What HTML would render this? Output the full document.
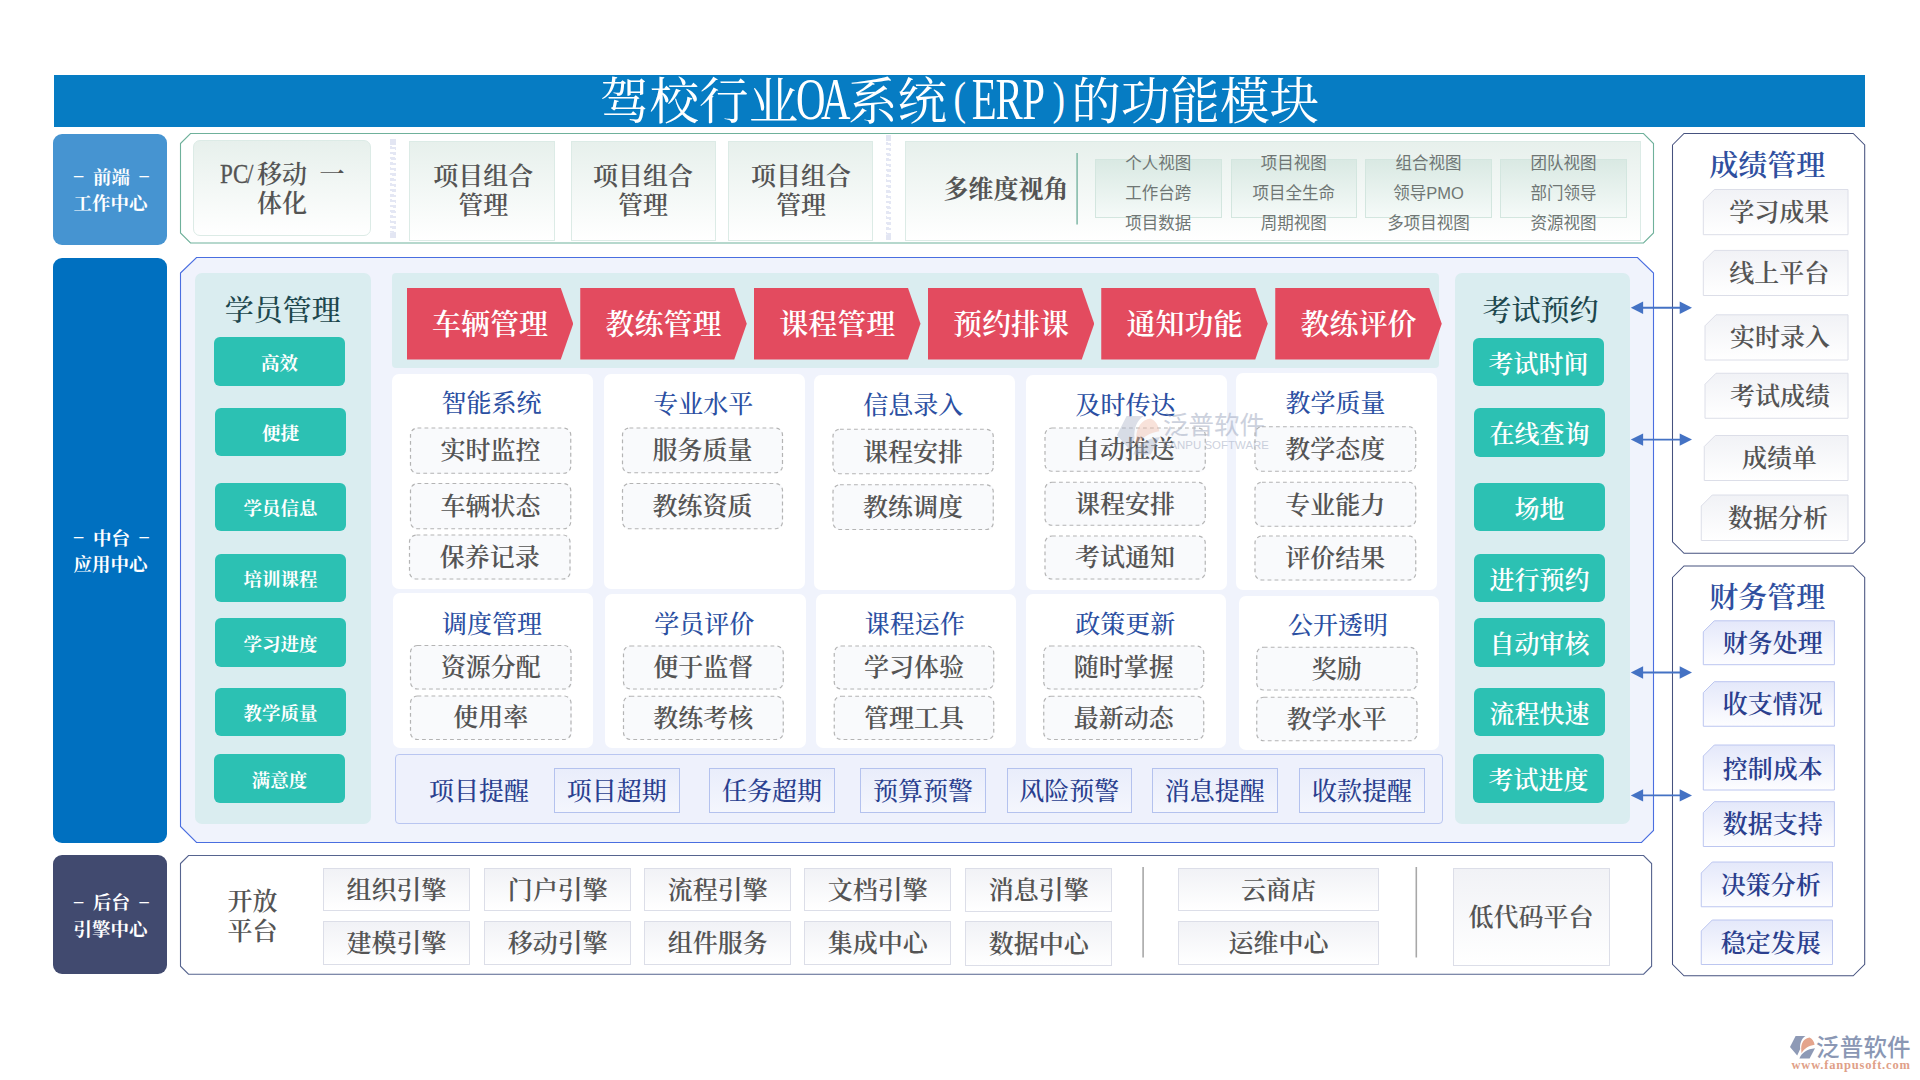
<!DOCTYPE html>
<html lang="zh-CN"><head><meta charset="utf-8"><title>驾校行业OA系统(ERP)的功能模块</title>
<style>
*{margin:0;padding:0;box-sizing:border-box;}
html,body{width:1920px;height:1080px;background:#fff;overflow:hidden;}
body{position:relative;font-family:"Liberation Serif","Noto Serif CJK SC",serif;}
.a{position:absolute;white-space:nowrap;text-align:center;}
svg.l{position:absolute;left:0;top:0;width:1920px;height:1080px;}
.title{background:#067cc3;}
.titletx{color:#fff;font-size:49.6px;font-weight:400;line-height:50px;letter-spacing:0;}
.titletx i{font-style:normal;display:inline-block;font-size:60px;line-height:50px;font-weight:400;transform:scaleX(.68);}
.titletx i.p{font-size:47px;transform:scaleX(.8) translateY(-5.5px);}
.lab{border-radius:9px;}
.labtx{color:#fff;font-weight:700;font-size:18.5px;}
.labtx em{font-style:normal;display:inline-block;width:9.5px;margin:0 9.6px;position:relative;top:-2.3px;}
.s{position:relative;display:inline-block;line-height:inherit;}
.gbox{background:linear-gradient(#e7f0ec,#ffffff);border:1px solid #dcebe6;}
.t24{font-size:25px;color:#545454;font-weight:600;}
.hw{font-weight:400;display:inline-block;width:12.5px;text-align:center;font-size:27.5px;line-height:20px;transform:scaleX(.84);-webkit-text-stroke:.3px #545454;}
.hatch{background:repeating-linear-gradient(to bottom,#fff 0 1.6px,#e4e7f4 1.6px 4.2px,#fff 4.2px 5.3px);transform:skewY(9deg);}
.vbox{background:linear-gradient(#d9e9e3,#f5faf8);border:1px solid #d3e6df;}
.vt{font-family:"Liberation Sans","Noto Sans CJK SC",sans-serif;font-size:16.5px;color:#6f7674;font-weight:400;}
.tealpanel{background:#daedf0;border-radius:7px;}
.ptitle{font-size:29px;color:#1d474d;font-weight:500;}
.tbtn{background:#2cc1b3;border-radius:6px;color:#fff;}
.tb18{font-size:18.5px;font-weight:700;}
.tb24{font-size:25px;font-weight:600;}
.flowtx{font-size:29px;color:#fff;font-weight:600;padding-right:0px;background:#e34b5f;clip-path:polygon(0 0,92.5% 0,100% 50%,92.5% 100%,0 100%);}
.card{background:#fff;border-radius:7px;}
.ctitle{font-size:25px;color:#2b4fa2;font-weight:500;}
.dash{font-size:25px;color:#545454;font-weight:600;background:#f9fafc;border-radius:7px;}
.remp{background:#eef1fc;border:1px solid #b9c6f1;border-radius:4px;}
.remt{font-size:25px;color:#2a3f8f;font-weight:500;}
.remb{font-size:25px;color:#2a3f8f;font-weight:500;background:linear-gradient(#e9edfb,#f4f6fd);border:1px solid #b4c2ee;}
.ebox{font-size:25px;color:#545454;font-weight:600;background:linear-gradient(#f1f2f6,#ffffff);border:1px solid #dcdee8;}
.rtitle{font-size:29px;color:#2f4f9f;font-weight:600;}
.ft24{font-size:25px;color:#2b3f8e;font-weight:600;}
.lg1{font-family:"Liberation Sans","Noto Sans CJK SC",sans-serif;font-size:23.5px;color:#8a97b4;font-weight:500;line-height:31px;text-align:left;letter-spacing:.2px;}
.lg2{font-size:12.5px;color:#e0a088;font-weight:700;line-height:19px;text-align:left;letter-spacing:.8px;padding-left:3.5px;}
.wm1{font-family:"Liberation Sans","Noto Sans CJK SC",sans-serif;font-size:25.5px;color:#9aa5bd;opacity:.5;line-height:34px;text-align:left;font-weight:400;}
.wm2{font-family:"Liberation Sans","Noto Sans CJK SC",sans-serif;font-size:11.4px;color:#9aa5bd;opacity:.5;line-height:14.5px;text-align:left;letter-spacing:.05px;}
</style></head>
<body>
<svg class="l" viewBox="0 0 1920 1080">
<polygon points="180.50,143.50 190.50,133.50 1643.50,133.50 1653.50,143.50 1653.50,233.00 1643.50,243.00 190.50,243.00 180.50,233.00" fill="#fff" stroke="#6fb19b" stroke-width="1.1" />
<polygon points="180.50,273.00 196.50,257.50 1637.50,257.50 1653.50,273.00 1653.50,830.50 1641.50,842.50 196.50,842.50 180.50,826.50" fill="#f0f3fc" stroke="#4a6ee0" stroke-width="1.1" />
<polygon points="180.50,863.50 188.50,855.50 1643.60,855.50 1651.60,863.50 1651.60,966.25 1643.60,974.25 188.50,974.25 180.50,966.25" fill="#fff" stroke="#56648f" stroke-width="1.1" />
<polygon points="1672.50,145.00 1684.00,133.50 1853.20,133.50 1864.70,145.00 1864.70,541.75 1853.20,553.25 1684.00,553.25 1672.50,541.75" fill="#fff" stroke="#46527f" stroke-width="1.05" />
<polygon points="1672.50,577.50 1684.00,566.00 1853.20,566.00 1864.70,577.50 1864.70,964.25 1853.20,975.75 1684.00,975.75 1672.50,964.25" fill="#fff" stroke="#46527f" stroke-width="1.05" />
<defs>
<linearGradient id="gg" x1="0" y1="0" x2="0" y2="1"><stop offset="0" stop-color="#f1f2f6"/><stop offset="1" stop-color="#ffffff"/></linearGradient>
<linearGradient id="gb" x1="0" y1="0" x2="0" y2="1"><stop offset="0" stop-color="#e4e8fa"/><stop offset="1" stop-color="#fdfdff"/></linearGradient>
</defs>
<polygon points="1703.30,200.50 1714.30,189.50 1848.00,189.50 1848.00,234.70 1703.30,234.70" fill="url(#gg)" stroke="#dcdee8" stroke-width="1" />
<polygon points="1703.30,261.40 1714.30,250.40 1848.00,250.40 1848.00,295.50 1703.30,295.50" fill="url(#gg)" stroke="#dcdee8" stroke-width="1" />
<polygon points="1705.00,325.80 1716.00,314.80 1848.00,314.80 1848.00,360.00 1705.00,360.00" fill="url(#gg)" stroke="#dcdee8" stroke-width="1" />
<polygon points="1705.00,384.25 1716.00,373.25 1848.00,373.25 1848.00,418.25 1705.00,418.25" fill="url(#gg)" stroke="#dcdee8" stroke-width="1" />
<polygon points="1704.25,446.50 1715.25,435.50 1848.00,435.50 1848.00,480.50 1704.25,480.50" fill="url(#gg)" stroke="#dcdee8" stroke-width="1" />
<polygon points="1701.25,506.00 1712.25,495.00 1848.00,495.00 1848.00,540.50 1701.25,540.50" fill="url(#gg)" stroke="#dcdee8" stroke-width="1" />
<polygon points="1703.30,631.80 1714.30,620.80 1834.40,620.80 1834.40,664.70 1703.30,664.70" fill="url(#gb)" stroke="#bcc6f0" stroke-width="1" />
<polygon points="1703.30,692.70 1714.30,681.70 1834.40,681.70 1834.40,726.25 1703.30,726.25" fill="url(#gb)" stroke="#bcc6f0" stroke-width="1" />
<polygon points="1703.30,756.00 1714.30,745.00 1834.40,745.00 1834.40,790.00 1703.30,790.00" fill="url(#gb)" stroke="#bcc6f0" stroke-width="1" />
<polygon points="1703.30,812.70 1714.30,801.70 1834.40,801.70 1834.40,846.50 1703.30,846.50" fill="url(#gb)" stroke="#bcc6f0" stroke-width="1" />
<polygon points="1701.25,873.00 1712.25,862.00 1832.50,862.00 1832.50,906.75 1701.25,906.75" fill="url(#gb)" stroke="#bcc6f0" stroke-width="1" />
<polygon points="1701.25,931.00 1712.25,920.00 1832.50,920.00 1832.50,964.50 1701.25,964.50" fill="url(#gb)" stroke="#bcc6f0" stroke-width="1" />
</svg>
<div class="a title" style="left:54.00px;top:75.00px;width:1811.00px;height:52.00px;"></div>
<div class="a titletx" style="left:54.00px;top:74.10px;width:1811.00px;height:52.00px;">驾校行业<i style="margin:0 -9.26px">O</i><i style="margin:0 -9.26px">A</i>系统<i class="p" style="margin:0 4.57px">(</i><i style="margin:0 -5.93px">E</i><i style="margin:0 -7.61px">R</i><i style="margin:0 -4.28px">P</i><i class="p" style="margin:0 4.57px">)</i>的功能模块</div>
<div class="a lab" style="left:53.00px;top:134.00px;width:114.00px;height:110.50px;background:#4694d1;"></div>
<div class="a lab" style="left:53.00px;top:258.00px;width:114.00px;height:584.50px;background:#0070c0;"></div>
<div class="a lab" style="left:53.00px;top:855.00px;width:114.00px;height:118.75px;background:#414a6f;"></div>
<div class="a labtx" style="left:54.40px;top:163.00px;width:114.00px;height:28.00px;line-height:28.00px;"><span class="s" style="top:0.50px"><em>–</em>前端<em>–</em></span></div>
<div class="a labtx" style="left:53.40px;top:189.75px;width:114.00px;height:28.00px;line-height:28.00px;"><span class="s" style="top:0.50px">工作中心</span></div>
<div class="a labtx" style="left:54.40px;top:524.00px;width:114.00px;height:28.00px;line-height:28.00px;"><span class="s" style="top:0.50px"><em>–</em>中台<em>–</em></span></div>
<div class="a labtx" style="left:53.40px;top:550.50px;width:114.00px;height:28.00px;line-height:28.00px;"><span class="s" style="top:0.50px">应用中心</span></div>
<div class="a labtx" style="left:54.40px;top:888.50px;width:114.00px;height:28.00px;line-height:28.00px;"><span class="s" style="top:0.50px"><em>–</em>后台<em>–</em></span></div>
<div class="a labtx" style="left:53.40px;top:915.25px;width:114.00px;height:28.00px;line-height:28.00px;"><span class="s" style="top:0.50px">引擎中心</span></div>
<div class="a gbox" style="left:193.00px;top:139.50px;width:178.00px;height:96.50px;border-radius:7px;"></div>
<div class="a t24" style="left:193.00px;top:159.00px;width:178.00px;height:29.50px;line-height:29.50px;"><span class="s" style="top:0.90px"><b class="hw">P</b><b class="hw">C</b><b class="hw">/</b>移动<b class="hw">&nbsp;</b>一</span></div>
<div class="a t24" style="left:193.00px;top:188.00px;width:178.00px;height:29.00px;line-height:29.00px;"><span class="s" style="top:0.90px">体化</span></div>
<div class="a hatch" style="left:390.00px;top:144.50px;width:6.00px;height:88.00px;"></div>
<div class="a " style="left:390.00px;top:139.00px;width:6.00px;height:5.50px;background:#e3e6f3;"></div>
<div class="a " style="left:390.00px;top:232.50px;width:6.00px;height:5.50px;background:#e3e6f3;"></div>
<div class="a hatch" style="left:886.30px;top:140.50px;width:5.00px;height:94.00px;"></div>
<div class="a " style="left:886.30px;top:135.00px;width:5.00px;height:5.50px;background:#e3e6f3;"></div>
<div class="a " style="left:886.30px;top:234.50px;width:5.00px;height:5.50px;background:#e3e6f3;"></div>
<div class="a gbox" style="left:409.25px;top:140.50px;width:145.25px;height:100.00px;"></div>
<div class="a t24" style="left:410.75px;top:161.00px;width:145.25px;height:29.00px;line-height:29.00px;"><span class="s" style="top:0.90px">项目组合</span></div>
<div class="a t24" style="left:410.75px;top:190.50px;width:145.25px;height:29.00px;line-height:29.00px;"><span class="s" style="top:0.90px">管理</span></div>
<div class="a gbox" style="left:570.50px;top:140.50px;width:145.00px;height:100.00px;"></div>
<div class="a t24" style="left:570.50px;top:161.00px;width:145.00px;height:29.00px;line-height:29.00px;"><span class="s" style="top:0.90px">项目组合</span></div>
<div class="a t24" style="left:570.50px;top:190.50px;width:145.00px;height:29.00px;line-height:29.00px;"><span class="s" style="top:0.90px">管理</span></div>
<div class="a gbox" style="left:727.50px;top:140.50px;width:145.00px;height:100.00px;"></div>
<div class="a t24" style="left:728.50px;top:161.00px;width:145.00px;height:29.00px;line-height:29.00px;"><span class="s" style="top:0.90px">项目组合</span></div>
<div class="a t24" style="left:728.50px;top:190.50px;width:145.00px;height:29.00px;line-height:29.00px;"><span class="s" style="top:0.90px">管理</span></div>
<div class="a gbox" style="left:904.50px;top:140.50px;width:736.00px;height:100.50px;"></div>
<div class="a t24" style="left:940.00px;top:174.00px;width:132.00px;height:30.00px;line-height:30.00px;font-weight:700;"><span class="s" style="top:0.90px">多维度视角</span></div>
<div class="a vbox" style="left:1095.00px;top:159.00px;width:126.60px;height:58.80px;"></div>
<div class="a vt" style="left:1085.00px;top:150.50px;width:146.60px;height:24.00px;line-height:24.00px;"><span class="s" style="top:0.90px">个人视图</span></div>
<div class="a vt" style="left:1085.00px;top:180.00px;width:146.60px;height:24.00px;line-height:24.00px;"><span class="s" style="top:0.90px">工作台跨</span></div>
<div class="a vt" style="left:1085.00px;top:210.00px;width:146.60px;height:24.00px;line-height:24.00px;"><span class="s" style="top:0.90px">项目数据</span></div>
<div class="a vbox" style="left:1230.50px;top:159.00px;width:126.60px;height:58.80px;"></div>
<div class="a vt" style="left:1220.50px;top:150.50px;width:146.60px;height:24.00px;line-height:24.00px;"><span class="s" style="top:0.90px">项目视图</span></div>
<div class="a vt" style="left:1220.50px;top:180.00px;width:146.60px;height:24.00px;line-height:24.00px;"><span class="s" style="top:0.90px">项目全生命</span></div>
<div class="a vt" style="left:1220.50px;top:210.00px;width:146.60px;height:24.00px;line-height:24.00px;"><span class="s" style="top:0.90px">周期视图</span></div>
<div class="a vbox" style="left:1365.25px;top:159.00px;width:126.60px;height:58.80px;"></div>
<div class="a vt" style="left:1355.25px;top:150.50px;width:146.60px;height:24.00px;line-height:24.00px;"><span class="s" style="top:0.90px">组合视图</span></div>
<div class="a vt" style="left:1355.25px;top:180.00px;width:146.60px;height:24.00px;line-height:24.00px;"><span class="s" style="top:0.90px">领导PMO</span></div>
<div class="a vt" style="left:1355.25px;top:210.00px;width:146.60px;height:24.00px;line-height:24.00px;"><span class="s" style="top:0.90px">多项目视图</span></div>
<div class="a vbox" style="left:1500.25px;top:159.00px;width:126.60px;height:58.80px;"></div>
<div class="a vt" style="left:1490.25px;top:150.50px;width:146.60px;height:24.00px;line-height:24.00px;"><span class="s" style="top:0.90px">团队视图</span></div>
<div class="a vt" style="left:1490.25px;top:180.00px;width:146.60px;height:24.00px;line-height:24.00px;"><span class="s" style="top:0.90px">部门领导</span></div>
<div class="a vt" style="left:1490.25px;top:210.00px;width:146.60px;height:24.00px;line-height:24.00px;"><span class="s" style="top:0.90px">资源视图</span></div>
<div class="a tealpanel" style="left:195.00px;top:273.00px;width:175.75px;height:550.75px;"></div>
<div class="a ptitle" style="left:195.00px;top:293.00px;width:175.75px;height:34.00px;line-height:34.00px;"><span class="s" style="top:0.50px">学员管理</span></div>
<div class="a tbtn tb18" style="left:214.00px;top:337.00px;width:131.00px;height:48.75px;line-height:48.75px;"><span class="s" style="top:3.10px">高效</span></div>
<div class="a tbtn tb18" style="left:215.00px;top:408.00px;width:131.00px;height:47.75px;line-height:47.75px;"><span class="s" style="top:3.10px">便捷</span></div>
<div class="a tbtn tb18" style="left:215.00px;top:483.00px;width:131.00px;height:47.75px;line-height:47.75px;"><span class="s" style="top:3.10px">学员信息</span></div>
<div class="a tbtn tb18" style="left:215.00px;top:554.25px;width:131.00px;height:47.50px;line-height:47.50px;"><span class="s" style="top:3.10px">培训课程</span></div>
<div class="a tbtn tb18" style="left:215.00px;top:618.00px;width:131.00px;height:48.75px;line-height:48.75px;"><span class="s" style="top:3.10px">学习进度</span></div>
<div class="a tbtn tb18" style="left:215.00px;top:688.00px;width:131.00px;height:47.75px;line-height:47.75px;"><span class="s" style="top:3.10px">教学质量</span></div>
<div class="a tbtn tb18" style="left:214.00px;top:754.00px;width:131.00px;height:48.75px;line-height:48.75px;"><span class="s" style="top:3.10px">满意度</span></div>
<div class="a tealpanel" style="left:1455.00px;top:273.00px;width:175.00px;height:550.75px;"></div>
<div class="a ptitle" style="left:1451.00px;top:294.00px;width:179.00px;height:34.00px;line-height:34.00px;"><span class="s" style="top:-0.30px">考试预约</span></div>
<div class="a tbtn tb24" style="left:1473.00px;top:338.00px;width:131.00px;height:47.50px;line-height:47.50px;"><span class="s" style="top:3.10px">考试时间</span></div>
<div class="a tbtn tb24" style="left:1474.00px;top:408.00px;width:131.00px;height:48.75px;line-height:48.75px;"><span class="s" style="top:3.10px">在线查询</span></div>
<div class="a tbtn tb24" style="left:1474.00px;top:483.00px;width:131.00px;height:47.75px;line-height:47.75px;"><span class="s" style="top:3.10px">场地</span></div>
<div class="a tbtn tb24" style="left:1474.00px;top:554.25px;width:131.00px;height:47.75px;line-height:47.75px;"><span class="s" style="top:3.10px">进行预约</span></div>
<div class="a tbtn tb24" style="left:1474.00px;top:618.00px;width:131.00px;height:48.75px;line-height:48.75px;"><span class="s" style="top:3.10px">自动审核</span></div>
<div class="a tbtn tb24" style="left:1474.00px;top:688.00px;width:131.00px;height:47.75px;line-height:47.75px;"><span class="s" style="top:3.10px">流程快速</span></div>
<div class="a tbtn tb24" style="left:1473.00px;top:754.00px;width:131.00px;height:48.75px;line-height:48.75px;"><span class="s" style="top:3.10px">考试进度</span></div>
<div class="a tealpanel" style="left:392.00px;top:273.00px;width:1046.75px;height:94.50px;border-radius:4px;"></div>
<div class="a flowtx" style="left:406.75px;top:288.00px;width:166.50px;height:71.50px;line-height:71.50px;"><span class="s" style="top:1.80px">车辆管理</span></div>
<div class="a flowtx" style="left:580.25px;top:288.00px;width:166.50px;height:71.50px;line-height:71.50px;"><span class="s" style="top:1.80px">教练管理</span></div>
<div class="a flowtx" style="left:754.00px;top:288.00px;width:166.50px;height:71.50px;line-height:71.50px;"><span class="s" style="top:1.80px">课程管理</span></div>
<div class="a flowtx" style="left:927.75px;top:288.00px;width:166.50px;height:71.50px;line-height:71.50px;"><span class="s" style="top:1.80px">预约排课</span></div>
<div class="a flowtx" style="left:1101.25px;top:288.00px;width:166.50px;height:71.50px;line-height:71.50px;"><span class="s" style="top:1.80px">通知功能</span></div>
<div class="a flowtx" style="left:1275.25px;top:288.00px;width:166.50px;height:71.50px;line-height:71.50px;"><span class="s" style="top:1.80px">教练评价</span></div>
<div class="a card" style="left:392.00px;top:374.00px;width:201.00px;height:214.75px;"></div>
<div class="a ctitle" style="left:390.00px;top:387.50px;width:203.00px;height:30.00px;line-height:30.00px;"><span class="s" style="top:1.90px">智能系统</span></div>
<div class="a dash" style="left:410.00px;top:427.50px;width:161.25px;height:46.25px;line-height:46.25px;"><span class="s" style="top:0.90px">实时监控</span></div>
<div class="a dash" style="left:410.00px;top:483.00px;width:161.25px;height:46.25px;line-height:46.25px;"><span class="s" style="top:0.90px">车辆状态</span></div>
<div class="a dash" style="left:409.00px;top:534.50px;width:161.50px;height:45.00px;line-height:45.00px;"><span class="s" style="top:0.90px">保养记录</span></div>
<div class="a card" style="left:603.75px;top:373.75px;width:201.25px;height:215.00px;"></div>
<div class="a ctitle" style="left:601.75px;top:388.00px;width:203.25px;height:30.00px;line-height:30.00px;"><span class="s" style="top:1.90px">专业水平</span></div>
<div class="a dash" style="left:622.00px;top:427.50px;width:161.00px;height:45.75px;line-height:45.75px;"><span class="s" style="top:0.90px">服务质量</span></div>
<div class="a dash" style="left:622.00px;top:483.00px;width:161.00px;height:46.25px;line-height:46.25px;"><span class="s" style="top:0.90px">教练资质</span></div>
<div class="a card" style="left:813.75px;top:375.00px;width:201.25px;height:214.50px;"></div>
<div class="a ctitle" style="left:811.75px;top:389.25px;width:203.25px;height:30.00px;line-height:30.00px;"><span class="s" style="top:1.90px">信息录入</span></div>
<div class="a dash" style="left:832.50px;top:428.75px;width:161.25px;height:45.50px;line-height:45.50px;"><span class="s" style="top:0.90px">课程安排</span></div>
<div class="a dash" style="left:832.50px;top:484.25px;width:161.25px;height:45.75px;line-height:45.75px;"><span class="s" style="top:0.90px">教练调度</span></div>
<div class="a card" style="left:1026.25px;top:375.00px;width:200.75px;height:214.50px;"></div>
<div class="a ctitle" style="left:1024.25px;top:388.75px;width:202.75px;height:30.00px;line-height:30.00px;"><span class="s" style="top:1.90px">及时传达</span></div>
<div class="a dash" style="left:1044.50px;top:427.50px;width:161.25px;height:44.25px;line-height:44.25px;"><span class="s" style="top:0.90px">自动推送</span></div>
<div class="a dash" style="left:1044.50px;top:481.75px;width:161.25px;height:44.00px;line-height:44.00px;"><span class="s" style="top:0.90px">课程安排</span></div>
<div class="a dash" style="left:1044.50px;top:535.50px;width:161.25px;height:44.00px;line-height:44.00px;"><span class="s" style="top:0.90px">考试通知</span></div>
<div class="a card" style="left:1236.25px;top:373.00px;width:200.75px;height:216.50px;"></div>
<div class="a ctitle" style="left:1234.25px;top:387.00px;width:202.75px;height:30.00px;line-height:30.00px;"><span class="s" style="top:1.90px">教学质量</span></div>
<div class="a dash" style="left:1254.50px;top:426.25px;width:161.75px;height:45.50px;line-height:45.50px;"><span class="s" style="top:0.90px">教学态度</span></div>
<div class="a dash" style="left:1254.50px;top:481.75px;width:161.75px;height:45.00px;line-height:45.00px;"><span class="s" style="top:0.90px">专业能力</span></div>
<div class="a dash" style="left:1254.50px;top:535.50px;width:161.75px;height:45.00px;line-height:45.00px;"><span class="s" style="top:0.90px">评价结果</span></div>
<div class="a card" style="left:393.00px;top:593.00px;width:200.00px;height:154.50px;"></div>
<div class="a ctitle" style="left:391.00px;top:608.00px;width:202.00px;height:30.00px;line-height:30.00px;"><span class="s" style="top:1.90px">调度管理</span></div>
<div class="a dash" style="left:410.00px;top:645.00px;width:161.50px;height:44.50px;line-height:44.50px;"><span class="s" style="top:0.90px">资源分配</span></div>
<div class="a dash" style="left:410.00px;top:695.50px;width:161.50px;height:44.50px;line-height:44.50px;"><span class="s" style="top:0.90px">使用率</span></div>
<div class="a card" style="left:605.00px;top:594.25px;width:200.75px;height:153.25px;"></div>
<div class="a ctitle" style="left:603.00px;top:608.00px;width:202.75px;height:30.00px;line-height:30.00px;"><span class="s" style="top:1.90px">学员评价</span></div>
<div class="a dash" style="left:623.00px;top:645.50px;width:160.75px;height:44.00px;line-height:44.00px;"><span class="s" style="top:0.90px">便于监督</span></div>
<div class="a dash" style="left:623.00px;top:695.75px;width:160.75px;height:44.25px;line-height:44.25px;"><span class="s" style="top:0.90px">教练考核</span></div>
<div class="a card" style="left:816.00px;top:594.25px;width:199.75px;height:153.25px;"></div>
<div class="a ctitle" style="left:814.00px;top:608.00px;width:201.75px;height:30.00px;line-height:30.00px;"><span class="s" style="top:1.90px">课程运作</span></div>
<div class="a dash" style="left:833.75px;top:645.50px;width:160.50px;height:44.00px;line-height:44.00px;"><span class="s" style="top:0.90px">学习体验</span></div>
<div class="a dash" style="left:833.75px;top:695.75px;width:160.50px;height:44.25px;line-height:44.25px;"><span class="s" style="top:0.90px">管理工具</span></div>
<div class="a card" style="left:1026.25px;top:594.25px;width:200.00px;height:153.25px;"></div>
<div class="a ctitle" style="left:1024.25px;top:608.00px;width:202.00px;height:30.00px;line-height:30.00px;"><span class="s" style="top:1.90px">政策更新</span></div>
<div class="a dash" style="left:1043.25px;top:645.50px;width:161.00px;height:44.00px;line-height:44.00px;"><span class="s" style="top:0.90px">随时掌握</span></div>
<div class="a dash" style="left:1043.25px;top:695.75px;width:161.00px;height:44.25px;line-height:44.25px;"><span class="s" style="top:0.90px">最新动态</span></div>
<div class="a card" style="left:1239.25px;top:595.50px;width:199.75px;height:154.00px;"></div>
<div class="a ctitle" style="left:1237.25px;top:609.50px;width:201.75px;height:30.00px;line-height:30.00px;"><span class="s" style="top:1.90px">公开透明</span></div>
<div class="a dash" style="left:1256.25px;top:646.75px;width:161.25px;height:43.75px;line-height:43.75px;"><span class="s" style="top:0.90px">奖励</span></div>
<div class="a dash" style="left:1256.25px;top:696.75px;width:161.25px;height:44.50px;line-height:44.50px;"><span class="s" style="top:0.90px">教学水平</span></div>
<div class="a remp" style="left:394.50px;top:753.75px;width:1048.00px;height:70.00px;"></div>
<div class="a remt" style="left:420.00px;top:775.50px;width:118.00px;height:30.00px;line-height:30.00px;"><span class="s" style="top:1.50px">项目提醒</span></div>
<div class="a remb" style="left:554.25px;top:768.25px;width:125.25px;height:44.25px;line-height:44.25px;"><span class="s" style="top:0.90px">项目超期</span></div>
<div class="a remb" style="left:709.25px;top:768.25px;width:125.50px;height:44.25px;line-height:44.25px;"><span class="s" style="top:0.90px">任务超期</span></div>
<div class="a remb" style="left:860.25px;top:768.25px;width:125.50px;height:44.25px;line-height:44.25px;"><span class="s" style="top:0.90px">预算预警</span></div>
<div class="a remb" style="left:1007.00px;top:768.25px;width:124.75px;height:44.25px;line-height:44.25px;"><span class="s" style="top:0.90px">风险预警</span></div>
<div class="a remb" style="left:1152.25px;top:768.25px;width:125.25px;height:44.25px;line-height:44.25px;"><span class="s" style="top:0.90px">消息提醒</span></div>
<div class="a remb" style="left:1299.25px;top:768.25px;width:125.50px;height:44.25px;line-height:44.25px;"><span class="s" style="top:0.90px">收款提醒</span></div>
<div class="a t24" style="left:215.00px;top:886.50px;width:75.00px;height:29.50px;line-height:29.50px;"><span class="s" style="top:0.90px">开放</span></div>
<div class="a t24" style="left:215.00px;top:916.00px;width:75.00px;height:29.50px;line-height:29.50px;"><span class="s" style="top:0.90px">平台</span></div>
<div class="a ebox" style="left:323.00px;top:867.50px;width:147.00px;height:43.75px;line-height:43.75px;"><span class="s" style="top:0.90px">组织引擎</span></div>
<div class="a ebox" style="left:484.25px;top:867.50px;width:147.00px;height:43.75px;line-height:43.75px;"><span class="s" style="top:0.90px">门户引擎</span></div>
<div class="a ebox" style="left:644.25px;top:867.50px;width:147.00px;height:43.75px;line-height:43.75px;"><span class="s" style="top:0.90px">流程引擎</span></div>
<div class="a ebox" style="left:804.25px;top:867.50px;width:147.00px;height:43.75px;line-height:43.75px;"><span class="s" style="top:0.90px">文档引擎</span></div>
<div class="a ebox" style="left:965.25px;top:867.50px;width:147.00px;height:44.75px;line-height:44.75px;"><span class="s" style="top:0.90px">消息引擎</span></div>
<div class="a ebox" style="left:323.00px;top:920.50px;width:147.00px;height:44.00px;line-height:44.00px;"><span class="s" style="top:0.90px">建模引擎</span></div>
<div class="a ebox" style="left:484.25px;top:920.50px;width:147.00px;height:44.00px;line-height:44.00px;"><span class="s" style="top:0.90px">移动引擎</span></div>
<div class="a ebox" style="left:644.25px;top:920.50px;width:147.00px;height:44.00px;line-height:44.00px;"><span class="s" style="top:0.90px">组件服务</span></div>
<div class="a ebox" style="left:804.25px;top:920.50px;width:147.00px;height:44.00px;line-height:44.00px;"><span class="s" style="top:0.90px">集成中心</span></div>
<div class="a ebox" style="left:965.25px;top:920.50px;width:147.00px;height:45.00px;line-height:45.00px;"><span class="s" style="top:0.90px">数据中心</span></div>
<div class="a ebox" style="left:1178.25px;top:867.50px;width:200.50px;height:43.75px;line-height:43.75px;"><span class="s" style="top:0.90px">云商店</span></div>
<div class="a ebox" style="left:1178.25px;top:920.50px;width:200.50px;height:44.00px;line-height:44.00px;"><span class="s" style="top:0.90px">运维中心</span></div>
<div class="a ebox" style="left:1452.50px;top:867.50px;width:157.00px;height:98.00px;line-height:98.00px;"><span class="s" style="top:0.20px">低代码平台</span></div>
<div class="a rtitle" style="left:1672.50px;top:147.50px;width:189.50px;height:34.00px;line-height:34.00px;"><span class="s" style="top:1.60px">成绩管理</span></div>
<div class="a rtitle" style="left:1672.50px;top:579.00px;width:189.50px;height:34.00px;line-height:34.00px;"><span class="s" style="top:1.60px">财务管理</span></div>
<div class="a t24" style="left:1706.80px;top:189.50px;width:144.70px;height:45.20px;line-height:45.20px;"><span class="s" style="top:0.70px">学习成果</span></div>
<div class="a t24" style="left:1706.80px;top:250.40px;width:144.70px;height:45.10px;line-height:45.10px;"><span class="s" style="top:0.70px">线上平台</span></div>
<div class="a t24" style="left:1708.50px;top:314.80px;width:143.00px;height:45.20px;line-height:45.20px;"><span class="s" style="top:0.70px">实时录入</span></div>
<div class="a t24" style="left:1708.50px;top:373.25px;width:143.00px;height:45.00px;line-height:45.00px;"><span class="s" style="top:0.70px">考试成绩</span></div>
<div class="a t24" style="left:1707.75px;top:435.50px;width:143.75px;height:45.00px;line-height:45.00px;"><span class="s" style="top:0.70px">成绩单</span></div>
<div class="a t24" style="left:1704.75px;top:495.00px;width:146.75px;height:45.50px;line-height:45.50px;"><span class="s" style="top:0.70px">数据分析</span></div>
<div class="a ft24" style="left:1707.30px;top:620.80px;width:131.10px;height:43.90px;line-height:43.90px;"><span class="s" style="top:1.60px">财务处理</span></div>
<div class="a ft24" style="left:1707.30px;top:681.70px;width:131.10px;height:44.55px;line-height:44.55px;"><span class="s" style="top:1.60px">收支情况</span></div>
<div class="a ft24" style="left:1707.30px;top:745.00px;width:131.10px;height:45.00px;line-height:45.00px;"><span class="s" style="top:1.60px">控制成本</span></div>
<div class="a ft24" style="left:1707.30px;top:801.70px;width:131.10px;height:44.80px;line-height:44.80px;"><span class="s" style="top:1.60px">数据支持</span></div>
<div class="a ft24" style="left:1705.25px;top:862.00px;width:131.25px;height:44.75px;line-height:44.75px;"><span class="s" style="top:1.60px">决策分析</span></div>
<div class="a ft24" style="left:1705.25px;top:920.00px;width:131.25px;height:44.50px;line-height:44.50px;"><span class="s" style="top:1.60px">稳定发展</span></div>
<div class="a lg1" style="left:1816.00px;top:1032.50px;width:100.00px;height:31.00px;">泛普软件</div>
<div class="a lg2" style="left:1788.00px;top:1056.00px;width:130.00px;height:19.00px;">www.fanpusoft.com</div>
<div class="a wm1" style="left:1163.00px;top:408.30px;width:112.00px;height:34.00px;">泛普软件</div>
<div class="a wm2" style="left:1163.00px;top:438.00px;width:112.00px;height:14.50px;">FANPU SOFTWARE</div>
<svg class="l" style="pointer-events:none" viewBox="0 0 1920 1080">
<line x1="1077.1" y1="153" x2="1077.1" y2="224.5" stroke="#86bcab" stroke-width="1.6"/>
<rect x="410.50" y="428.00" width="160.25" height="45.25" rx="7" fill="none" stroke="#b4b4b4" stroke-width="1.2" stroke-dasharray="3.8 3.2"/>
<rect x="410.50" y="483.50" width="160.25" height="45.25" rx="7" fill="none" stroke="#b4b4b4" stroke-width="1.2" stroke-dasharray="3.8 3.2"/>
<rect x="409.50" y="535.00" width="160.50" height="44.00" rx="7" fill="none" stroke="#b4b4b4" stroke-width="1.2" stroke-dasharray="3.8 3.2"/>
<rect x="622.50" y="428.00" width="160.00" height="44.75" rx="7" fill="none" stroke="#b4b4b4" stroke-width="1.2" stroke-dasharray="3.8 3.2"/>
<rect x="622.50" y="483.50" width="160.00" height="45.25" rx="7" fill="none" stroke="#b4b4b4" stroke-width="1.2" stroke-dasharray="3.8 3.2"/>
<rect x="833.00" y="429.25" width="160.25" height="44.50" rx="7" fill="none" stroke="#b4b4b4" stroke-width="1.2" stroke-dasharray="3.8 3.2"/>
<rect x="833.00" y="484.75" width="160.25" height="44.75" rx="7" fill="none" stroke="#b4b4b4" stroke-width="1.2" stroke-dasharray="3.8 3.2"/>
<rect x="1045.00" y="428.00" width="160.25" height="43.25" rx="7" fill="none" stroke="#b4b4b4" stroke-width="1.2" stroke-dasharray="3.8 3.2"/>
<rect x="1045.00" y="482.25" width="160.25" height="43.00" rx="7" fill="none" stroke="#b4b4b4" stroke-width="1.2" stroke-dasharray="3.8 3.2"/>
<rect x="1045.00" y="536.00" width="160.25" height="43.00" rx="7" fill="none" stroke="#b4b4b4" stroke-width="1.2" stroke-dasharray="3.8 3.2"/>
<rect x="1255.00" y="426.75" width="160.75" height="44.50" rx="7" fill="none" stroke="#b4b4b4" stroke-width="1.2" stroke-dasharray="3.8 3.2"/>
<rect x="1255.00" y="482.25" width="160.75" height="44.00" rx="7" fill="none" stroke="#b4b4b4" stroke-width="1.2" stroke-dasharray="3.8 3.2"/>
<rect x="1255.00" y="536.00" width="160.75" height="44.00" rx="7" fill="none" stroke="#b4b4b4" stroke-width="1.2" stroke-dasharray="3.8 3.2"/>
<rect x="410.50" y="645.50" width="160.50" height="43.50" rx="7" fill="none" stroke="#b4b4b4" stroke-width="1.2" stroke-dasharray="3.8 3.2"/>
<rect x="410.50" y="696.00" width="160.50" height="43.50" rx="7" fill="none" stroke="#b4b4b4" stroke-width="1.2" stroke-dasharray="3.8 3.2"/>
<rect x="623.50" y="646.00" width="159.75" height="43.00" rx="7" fill="none" stroke="#b4b4b4" stroke-width="1.2" stroke-dasharray="3.8 3.2"/>
<rect x="623.50" y="696.25" width="159.75" height="43.25" rx="7" fill="none" stroke="#b4b4b4" stroke-width="1.2" stroke-dasharray="3.8 3.2"/>
<rect x="834.25" y="646.00" width="159.50" height="43.00" rx="7" fill="none" stroke="#b4b4b4" stroke-width="1.2" stroke-dasharray="3.8 3.2"/>
<rect x="834.25" y="696.25" width="159.50" height="43.25" rx="7" fill="none" stroke="#b4b4b4" stroke-width="1.2" stroke-dasharray="3.8 3.2"/>
<rect x="1043.75" y="646.00" width="160.00" height="43.00" rx="7" fill="none" stroke="#b4b4b4" stroke-width="1.2" stroke-dasharray="3.8 3.2"/>
<rect x="1043.75" y="696.25" width="160.00" height="43.25" rx="7" fill="none" stroke="#b4b4b4" stroke-width="1.2" stroke-dasharray="3.8 3.2"/>
<rect x="1256.75" y="647.25" width="160.25" height="42.75" rx="7" fill="none" stroke="#b4b4b4" stroke-width="1.2" stroke-dasharray="3.8 3.2"/>
<rect x="1256.75" y="697.25" width="160.25" height="43.50" rx="7" fill="none" stroke="#b4b4b4" stroke-width="1.2" stroke-dasharray="3.8 3.2"/>
<line x1="1143.1" y1="867" x2="1143.1" y2="957.5" stroke="#a8a8a8" stroke-width="1.6"/>
<line x1="1416.3" y1="867" x2="1416.3" y2="957.5" stroke="#a8a8a8" stroke-width="1.6"/>
<line x1="1638.8" y1="307.7" x2="1684" y2="307.7" stroke="#4472c4" stroke-width="1.9"/>
<polygon points="1630.8,307.7 1643.1,301.5 1643.1,313.9" fill="#4472c4"/>
<polygon points="1692,307.7 1679.7,301.5 1679.7,313.9" fill="#4472c4"/>
<line x1="1638.8" y1="439.6" x2="1684" y2="439.6" stroke="#4472c4" stroke-width="1.9"/>
<polygon points="1630.8,439.6 1643.1,433.40000000000003 1643.1,445.8" fill="#4472c4"/>
<polygon points="1692,439.6 1679.7,433.40000000000003 1679.7,445.8" fill="#4472c4"/>
<line x1="1638.8" y1="672.5" x2="1684" y2="672.5" stroke="#4472c4" stroke-width="1.9"/>
<polygon points="1630.8,672.5 1643.1,666.3 1643.1,678.7" fill="#4472c4"/>
<polygon points="1692,672.5 1679.7,666.3 1679.7,678.7" fill="#4472c4"/>
<line x1="1638.8" y1="795.4" x2="1684" y2="795.4" stroke="#4472c4" stroke-width="1.9"/>
<polygon points="1630.8,795.4 1643.1,789.1999999999999 1643.1,801.6" fill="#4472c4"/>
<polygon points="1692,795.4 1679.7,789.1999999999999 1679.7,801.6" fill="#4472c4"/>
<g transform="translate(1790,1036) scale(1.0)" opacity="1"><path d="M5.6,0 L15.5,0 C11.5,2.5 9.6,7.5 10.2,13 L7.2,19.5 L0,11 Z" fill="#8e9ab6"/><path d="M11.2,12.6 C11.2,6.5 14.2,2.2 19.6,1.4 C22.4,2.6 24.2,5.6 24.6,8.8 C19,9.6 14,12.6 11.6,17.2 C11.3,15.6 11.2,14.2 11.2,12.6 Z" fill="#e4a48c"/><path d="M9.4,22.4 C11.4,16.8 17.4,12.8 25,12.2 L19.6,22.4 Z" fill="#8e9ab6"/></g>
<g transform="translate(1117,416) scale(1.72)" opacity="0.42"><path d="M5.6,0 L15.5,0 C11.5,2.5 9.6,7.5 10.2,13 L7.2,19.5 L0,11 Z" fill="#aab3c8"/><path d="M11.2,12.6 C11.2,6.5 14.2,2.2 19.6,1.4 C22.4,2.6 24.2,5.6 24.6,8.8 C19,9.6 14,12.6 11.6,17.2 C11.3,15.6 11.2,14.2 11.2,12.6 Z" fill="#f0bba8"/><path d="M9.4,22.4 C11.4,16.8 17.4,12.8 25,12.2 L19.6,22.4 Z" fill="#aab3c8"/></g>
</svg>
</body></html>
